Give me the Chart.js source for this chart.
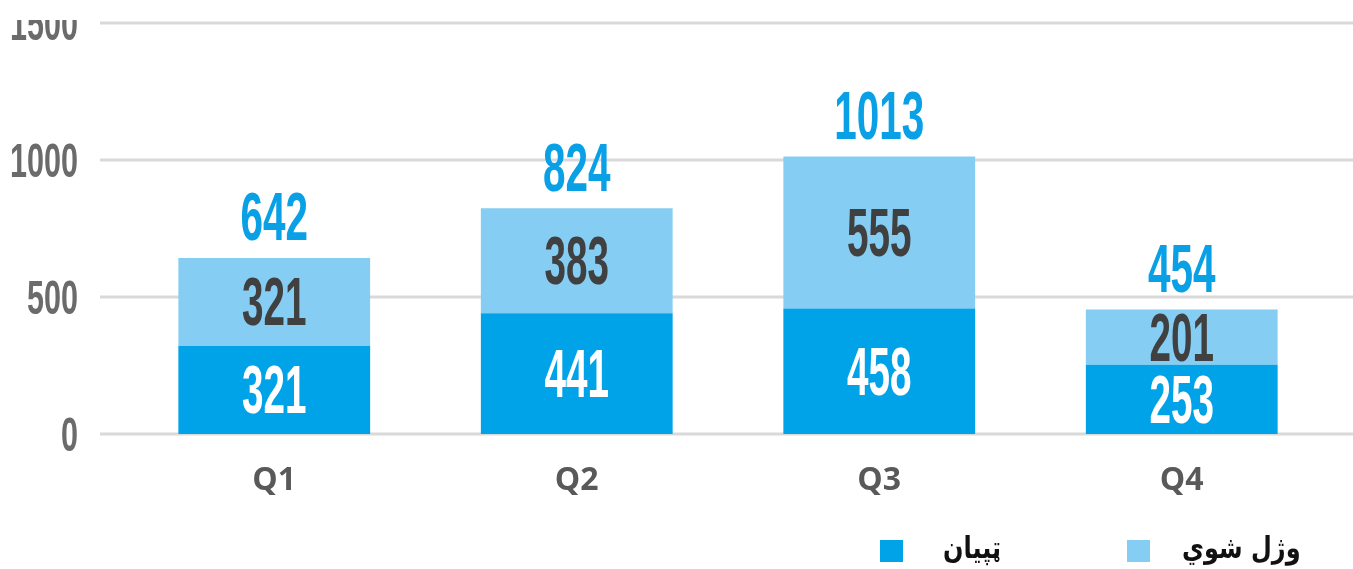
<!DOCTYPE html>
<html>
<head>
<meta charset="utf-8">
<script src="https://cdn.jsdelivr.net/npm/chart.js@4.4.1/dist/chart.umd.min.js"></script>
<style>
  html, body { margin: 0; padding: 0; background: #fff; overflow: hidden; }
  #myChartDiv { width: 1353px; height: 569px; position: relative; }
</style>
</head>
<body>
<div id="myChartDiv"><canvas id="myChart"></canvas></div>
<script>
// data
const categories = ['Q1', 'Q2', 'Q3', 'Q4'];
const injured = [321, 441, 458, 253];   // ټپيان
const killed = [321, 383, 555, 201];    // وژل شوي
const totals = [642, 824, 1013, 454];
const yTicks = [0, 500, 1000, 1500];
const seriesNames = ['ټپيان', 'وژل شوي'];

const darkBlue = '#00a2e8';
const lightBlue = '#85cdf2';
const numFont = '"Liberation Sans Narrow", "Liberation Sans", "DejaVu Sans", sans-serif';

// draw a number squeezed to a fixed width per digit (the original uses a condensed face)
function drawNarrow(ctx, text, x, y, size, charW, color, align) {
  ctx.save();
  ctx.font = 'bold ' + size + 'px ' + numFont;
  const w = ctx.measureText(text).width;
  const sx = (charW * text.length) / w;
  ctx.translate(x, y + size * 0.688 / 2);
  ctx.scale(sx, 1);
  ctx.fillStyle = color;
  ctx.textAlign = align || 'center';
  ctx.textBaseline = 'alphabetic';
  ctx.fillText(text, 0, 0);
  ctx.restore();
}

const decorPlugin = {
  id: 'decor',
  beforeDatasetsDraw(chart) {
    const ctx = chart.ctx;
    const y = chart.scales.y;
    ctx.save();
    ctx.strokeStyle = '#d9d9d9';
    ctx.lineWidth = 3;
    yTicks.forEach(v => {
      const py = y.getPixelForValue(v);
      ctx.beginPath();
      ctx.moveTo(100, py);
      ctx.lineTo(chart.width, py);
      ctx.stroke();
    });
    ctx.restore();

    // y tick labels (top one is cut off in the original)
    ctx.save();
    ctx.beginPath();
    ctx.rect(0, 20, 100, chart.height);
    ctx.clip();
    yTicks.forEach(v => {
      drawNarrow(ctx, String(v), 78, y.getPixelForValue(v), 48, 17, '#6b6b6b', 'right');
    });
    ctx.restore();
  },
  afterDatasetsDraw(chart) {
    const ctx = chart.ctx;
    const colors = ['#ffffff', '#404040'];
    chart.data.datasets.forEach((ds, di) => {
      chart.getDatasetMeta(di).data.forEach((bar, i) => {
        const cy = (bar.y + bar.base) / 2;
        drawNarrow(ctx, String(ds.data[i]), bar.x, cy, 68, 21.5, colors[di]);
      });
    });
    const top = chart.getDatasetMeta(1).data;
    totals.forEach((t, i) => {
      drawNarrow(ctx, String(t), top[i].x, top[i].y - 41, 68, 22.5, '#0aa0e6');
    });

    // legend
    const items = [{ box: 880, text: 943 }, { box: 1127, text: 1182 }];
    ctx.save();
    ctx.font = 'bold 30px "DejaVu Sans", sans-serif';
    ctx.textBaseline = 'alphabetic';
    ctx.textAlign = 'left';
    chart.data.datasets.forEach((ds, di) => {
      ctx.fillStyle = ds.backgroundColor;
      ctx.fillRect(items[di].box, 540, 23, 22);
      ctx.save();
      ctx.translate(items[di].text, 558);
      ctx.scale(0.8, 1);
      ctx.fillStyle = '#111111';
      ctx.fillText(ds.label, 0, 0);
      ctx.restore();
    });
    ctx.restore();
  }
};

const config = {
  type: 'bar',
  data: {
    labels: categories,
    datasets: [
      { label: seriesNames[0], data: injured, backgroundColor: darkBlue, borderWidth: 0 },
      { label: seriesNames[1], data: killed, backgroundColor: lightBlue, borderWidth: 0 }
    ]
  },
  options: {
    responsive: true,
    maintainAspectRatio: false,
    animation: false,
    layout: { padding: { top: 23, right: 20, bottom: 70, left: 0 } },
    barPercentage: 0.634,
    categoryPercentage: 1,
    plugins: {
      legend: { display: false },
      tooltip: { enabled: false },
      title: { display: false }
    },
    scales: {
      x: {
        stacked: true,
        grid: { display: false, drawTicks: false },
        border: { display: false },
        ticks: {
          color: '#595959',
          padding: 28,
          font: { family: '"Open Sans", "Liberation Sans", sans-serif', size: 32, weight: 'bold' }
        },
        afterFit: (axis) => { axis.height = 65; }
      },
      y: {
        stacked: true,
        min: 0,
        max: 1500,
        ticks: { display: false, stepSize: 500 },
        grid: { display: false, drawTicks: false },
        border: { display: false },
        afterFit: (axis) => { axis.width = 123; }
      }
    }
  },
  plugins: [decorPlugin]
};

window.onload = function () {
  const ctx = document.getElementById('myChart');
  new Chart(ctx, config);
};
</script>
</body>
</html>
